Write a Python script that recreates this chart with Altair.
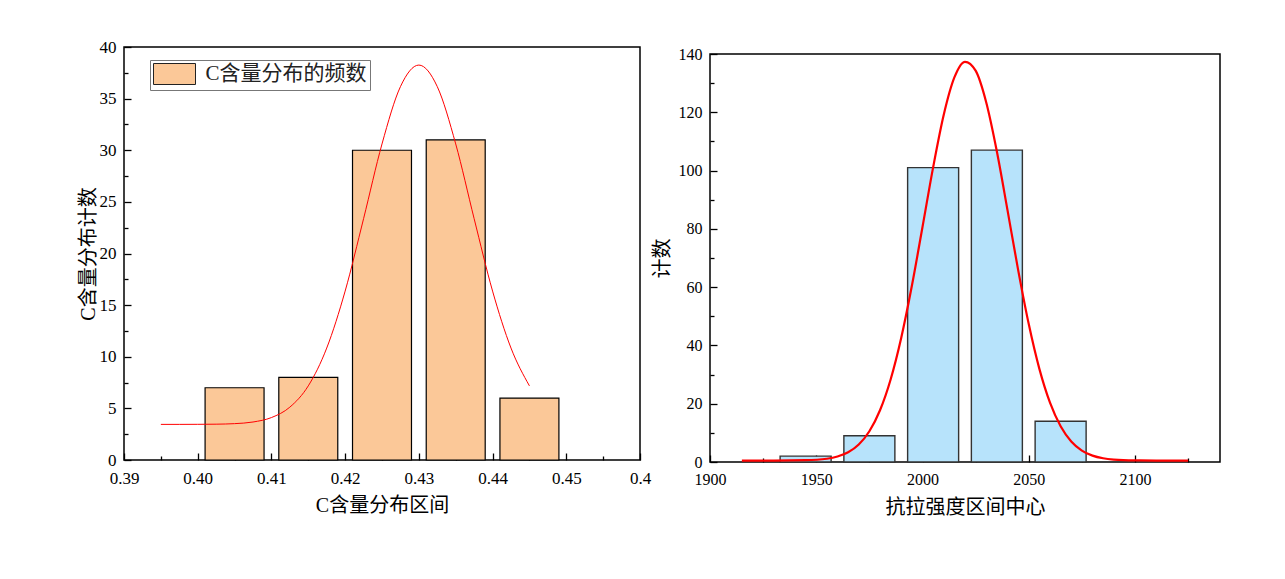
import altair as alt
import pandas as pd

# ---------------- Left panel data ----------------
L_CENTERS = [0.405, 0.415, 0.425, 0.435, 0.445]
L_COUNTS = [7, 8, 30, 31, 6]
L_SERIES = "C含量分布的频数"
L_CURVE_X = [0.395, 0.3975, 0.40, 0.4025, 0.405, 0.4075, 0.41, 0.4125, 0.415,
             0.4175, 0.42, 0.4225, 0.425, 0.4275, 0.43, 0.4325, 0.435, 0.4375,
             0.44, 0.4425, 0.445]
L_CURVE_Y = [3.45, 3.45, 3.455, 3.47, 3.52, 3.68, 4.11, 5.12, 7.18,
             10.84, 16.36, 23.37, 30.61, 36.16, 38.25, 36.16, 30.61, 23.37,
             16.36, 10.84, 7.18]
L_X_MAJOR = [0.39, 0.40, 0.41, 0.42, 0.43, 0.44, 0.45, 0.46]
L_X_LABELS = ["0.39", "0.40", "0.41", "0.42", "0.43", "0.44", "0.45", "0.4"]
L_X_MINOR = [0.395, 0.405, 0.415, 0.425, 0.435, 0.445, 0.455]
L_Y_MAJOR = [0, 5, 10, 15, 20, 25, 30, 35, 40]
L_Y_MINOR = [2.5, 7.5, 12.5, 17.5, 22.5, 27.5, 32.5, 37.5]

# ---------------- Right panel data ----------------
R_CENTERS = [1945, 1975, 2005, 2035, 2065]
R_COUNTS = [2, 9, 101, 107, 14]
R_CURVE_X = [1915, 1930, 1945, 1955, 1960, 1965, 1970, 1975, 1980, 1985, 1990,
             1995, 2000, 2005, 2010, 2015, 2020, 2025, 2030, 2035, 2040, 2045,
             2050, 2055, 2060, 2065, 2070, 2075, 2080, 2085, 2090, 2100, 2110, 2125]
R_CURVE_Y = [0.5, 0.5, 0.61, 1.12, 1.87, 3.33, 6.01, 10.56, 17.76, 28.33, 42.65,
             60.46, 80.63, 101.1, 119.15, 131.95, 137.32, 134.28, 123.37, 106.53, 86.43, 65.94,
             47.32, 31.96, 20.36, 12.27, 7.06, 3.93, 2.19, 1.28, 0.84, 0.55, 0.5, 0.5]
R_X_MAJOR = [1900, 1950, 2000, 2050, 2100]
R_X_MINOR = [1925, 1975, 2025, 2075, 2125]
R_Y_MAJOR = [0, 20, 40, 60, 80, 100, 120, 140]
R_Y_MINOR = [10, 30, 50, 70, 90, 110, 130]

NUM_FONT = "Liberation Serif"
CJK_FONT = "Liberation Serif, Noto Sans CJK SC"
ORANGE = "#FBC898"
BLUE = "#B7E3FB"


def major_axis(orient, values, title, size, fmt=None, label_expr=None, title_pad=6, label_pad=8):
    kw = dict(orient=orient, values=values, offset=-7, tickSize=7, domain=False,
              grid=False, tickColor="black", tickWidth=1.3, labelColor="black",
              labelFont=NUM_FONT, labelFontSize=size, labelPadding=label_pad,
              labelOverlap=False, labelFlush=False,
              title=title, titleFont=CJK_FONT, titleFontSize=20,
              titleFontWeight="normal", titleColor="black", titlePadding=title_pad)
    if fmt is not None:
        kw["format"] = fmt
    if label_expr is not None:
        kw["labelExpr"] = label_expr
    return alt.Axis(**kw)


def minor_axis(orient, values):
    return alt.Axis(orient=orient, values=values, offset=-4, tickSize=4,
                    domain=False, grid=False, labels=False, title=None,
                    tickColor="black", tickWidth=1.3)


# ---------------- Left chart ----------------
left_bars_df = pd.DataFrame({"c": L_CENTERS, "n": L_COUNTS, "s": [L_SERIES] * len(L_CENTERS)})
left_curve_df = pd.DataFrame({"x": L_CURVE_X, "y": L_CURVE_Y})

lx = alt.Scale(domain=[0.39, 0.46], nice=False, zero=False)
ly = alt.Scale(domain=[0, 40], nice=False)
label_expr = "[" + ",".join("'%s'" % t for t in L_X_LABELS) + "][round((datum.value-0.39)*100)]"

left_bars = alt.Chart(left_bars_df).transform_calculate(
    x0="datum.c - 0.004", x1="datum.c + 0.004"
).mark_bar(stroke="black", strokeWidth=1.2, opacity=1).encode(
    x=alt.X("x0:Q", scale=lx, axis=major_axis("bottom", L_X_MAJOR, "C含量分布区间", 17,
                                              label_expr=label_expr, title_pad=9, label_pad=10)),
    x2="x1:Q",
    y=alt.Y("n:Q", scale=ly, axis=major_axis("left", L_Y_MAJOR, "C含量分布计数", 17, fmt="d",
                                             title_pad=1)),
    y2=alt.datum(0),
    color=alt.Color("s:N", scale=alt.Scale(range=[ORANGE]), legend=alt.Legend(
        title=None, orient="none", legendX=26, legendY=13, padding=3,
        strokeColor="#777777", fillColor="white",
        symbolType="M-2,-1H2V1H-2Z", symbolSize=441, symbolOffset=10.5,
        symbolStrokeColor="#222222",
        symbolStrokeWidth=1, symbolOpacity=1, labelFont=CJK_FONT, labelFontSize=21,
        labelColor="#222222", labelOffset=20, labelLimit=400)),
)
left_curve = alt.Chart(left_curve_df).mark_line(color="#FF0000", strokeWidth=1, interpolate="monotone").encode(
    x=alt.X("x:Q", scale=lx, axis=minor_axis("bottom", L_X_MINOR)),
    y=alt.Y("y:Q", scale=ly, axis=minor_axis("left", L_Y_MINOR)),
)
left = alt.layer(left_bars, left_curve).resolve_axis(x="independent", y="independent").properties(
    width=516, height=413)

# ---------------- Right chart ----------------
right_bars_df = pd.DataFrame({"c": R_CENTERS, "n": R_COUNTS})
right_curve_df = pd.DataFrame({"x": R_CURVE_X, "y": R_CURVE_Y})
rx = alt.Scale(domain=[1900, 2140], nice=False, zero=False)
ry = alt.Scale(domain=[0, 140], nice=False)

right_bars = alt.Chart(right_bars_df).transform_calculate(
    x0="datum.c - 12", x1="datum.c + 12"
).mark_bar(fill=BLUE, stroke="#333333", strokeWidth=1.4, opacity=1).encode(
    x=alt.X("x0:Q", scale=rx, axis=major_axis("bottom", R_X_MAJOR, "抗拉强度区间中心", 16, fmt="d",
                                              title_pad=10, label_pad=9)),
    x2="x1:Q",
    y=alt.Y("n:Q", scale=ry, axis=major_axis("left", R_Y_MAJOR, "计数", 16, fmt="d")),
    y2=alt.datum(0),
)
right_curve = alt.Chart(right_curve_df).mark_line(color="#FF0000", strokeWidth=2.2, interpolate="monotone").encode(
    x=alt.X("x:Q", scale=rx, axis=minor_axis("bottom", R_X_MINOR)),
    y=alt.Y("y:Q", scale=ry, axis=minor_axis("left", R_Y_MINOR)),
)
right = alt.layer(right_bars, right_curve).resolve_axis(x="independent", y="independent").properties(
    width=510, height=408)

spacer = alt.Chart(pd.DataFrame({"v": [0]})).mark_point(opacity=0).properties(
    width=510, height=7, view=alt.ViewBackground(stroke="transparent"))

right_col = alt.vconcat(spacer, right, spacing=0, bounds="flush")

chart = alt.hconcat(left, right_col, spacing=70, bounds="flush").properties(
    padding={"left": 69, "top": 29, "right": 20, "bottom": 20}
).configure_view(stroke="black", strokeWidth=1.5)

chart.save("out.html", embed_options={"renderer": "svg", "actions": False})
